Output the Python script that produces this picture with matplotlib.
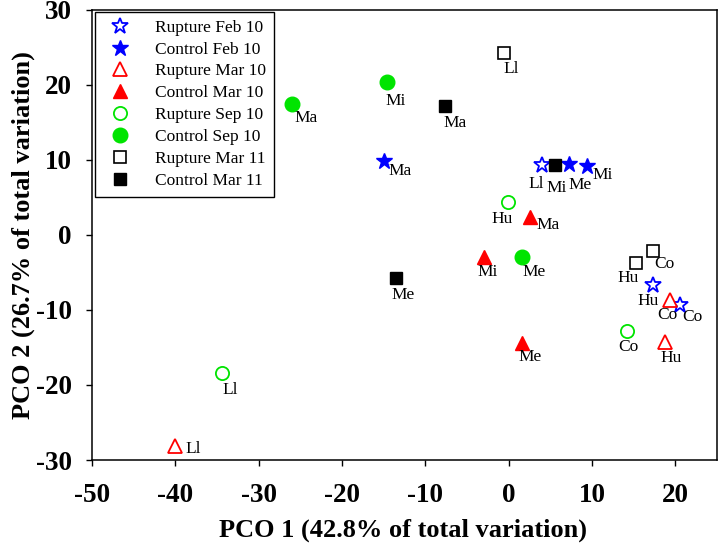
import matplotlib.pyplot as plt

plt.rcParams['font.family'] = ['Liberation Serif', 'DejaVu Serif']
plt.rcParams['axes.unicode_minus'] = False

# PCO scores
rup_feb10_x = [4.0, 17.3, 20.6]
rup_feb10_y = [9.3, -6.7, -9.3]
rup_feb10_lab = ["Ll", "Hu", "Co"]

con_feb10_x = [-15.0, 7.2, 9.4]
con_feb10_y = [9.8, 9.4, 9.2]
con_feb10_lab = ["Ma", "Me", "Mi"]

rup_mar10_x = [-40.0, 19.4, 18.8]
rup_mar10_y = [-28.2, -8.7, -14.3]
rup_mar10_lab = ["Ll", "Co", "Hu"]

con_mar10_x = [2.6, -3.0, 1.6]
con_mar10_y = [2.4, -3.0, -14.4]
con_mar10_lab = ["Ma", "Mi", "Me"]

rup_sep10_x = [-0.1, 14.2, -34.4]
rup_sep10_y = [4.4, -12.8, -18.4]
rup_sep10_lab = ["Hu", "Co", "Ll"]

con_sep10_x = [-26.0, -14.6, 1.6]
con_sep10_y = [17.4, 20.3, -3.0]
con_sep10_lab = ["Ma", "Mi", "Me"]

rup_mar11_x = [-0.6, 17.3, 15.3]
rup_mar11_y = [24.2, -2.1, -3.7]
rup_mar11_lab = ["Ll", "Co", "Hu"]

con_mar11_x = [-7.6, 5.6, -13.5]
con_mar11_y = [17.2, 9.3, -5.8]
con_mar11_lab = ["Ma", "Mi", "Me"]

# label offsets from the marker (pixels, right / down)
label_offsets = [
    [(-14, 11), (-15, 8), (2, 4)],
    [(5, 2), (0, 13), (5, 1)],
    [(10, -5), (-13, 7), (-5, 8)],
    [(6, 0), (-6, 7), (-4, 6)],
    [(-16, 9), (-9, 8), (0, 9)],
    [(2, 6), (-2, 11), (0, 7)],
    [(0, 8), (1, 5), (-19, 7)],
    [(-2, 9), (-9, 15), (-5, 9)],
]

green = '#00e400'
series = [
    ("Rupture Feb 10", rup_feb10_x, rup_feb10_y, rup_feb10_lab, dict(marker='*', ms=12, mfc='white', mec='blue', mew=1.3)),
    ("Control Feb 10", con_feb10_x, con_feb10_y, con_feb10_lab, dict(marker='*', ms=12, mfc='blue', mec='blue', mew=1)),
    ("Rupture Mar 10", rup_mar10_x, rup_mar10_y, rup_mar10_lab, dict(marker='^', ms=10, mfc='white', mec='red', mew=1.3)),
    ("Control Mar 10", con_mar10_x, con_mar10_y, con_mar10_lab, dict(marker='^', ms=10, mfc='red', mec='red', mew=1)),
    ("Rupture Sep 10", rup_sep10_x, rup_sep10_y, rup_sep10_lab, dict(marker='o', ms=9.5, mfc='white', mec=green, mew=1.3)),
    ("Control Sep 10", con_sep10_x, con_sep10_y, con_sep10_lab, dict(marker='o', ms=10.5, mfc=green, mec=green, mew=1)),
    ("Rupture Mar 11", rup_mar11_x, rup_mar11_y, rup_mar11_lab, dict(marker='s', ms=8.5, mfc='white', mec='black', mew=1.2)),
    ("Control Mar 11", con_mar11_x, con_mar11_y, con_mar11_lab, dict(marker='s', ms=9, mfc='black', mec='black', mew=1)),
]

fig = plt.figure(figsize=(7.18, 5.46), dpi=100)
ax = fig.add_axes([92 / 718, 1 - 460 / 546, 625 / 718, 450.5 / 546])

for (name, xs, ys, labs, style), offs in zip(series, label_offsets):
    ax.plot(xs, ys, linestyle='none', label=name, **style)
    for x, y, lab, (dx, dy) in zip(xs, ys, labs, offs):
        ax.annotate(lab, (x, y), xytext=(dx * 0.72, -dy * 0.72), textcoords='offset points',
                    ha='left', va='top', fontsize=12.5)

ax.set_xlim(-50, 25)
ax.set_ylim(-30, 30)
ax.set_xticks(range(-50, 21, 10))
ax.set_yticks(range(-30, 31, 10))
ax.tick_params(direction='out', length=4.5, width=1, top=False, right=False,
               labelsize=19.5)
ax.tick_params(axis='x', pad=12)
ax.tick_params(axis='y', pad=10)
for lbl in ax.get_xticklabels() + ax.get_yticklabels():
    lbl.set_fontweight('bold')
for sp in ax.spines.values():
    sp.set_linewidth(1.1)

ax.set_xlabel("PCO 1 (42.8% of total variation)", fontsize=19, fontweight='bold')
ax.set_ylabel("PCO 2 (26.7% of total variation)", fontsize=19, fontweight='bold')
ax.xaxis.set_label_coords(0.498, -0.155)
ax.xaxis.label.set_va('center')
ax.yaxis.set_label_coords(-0.11, 0.5)
ax.yaxis.label.set_va('center')

leg = ax.legend(loc='upper left', bbox_to_anchor=(0.005, 0.995), borderaxespad=0,
                fontsize=12.5, frameon=True, fancybox=False, edgecolor='black',
                handletextpad=1.0, labelspacing=0.33, borderpad=0.45, handlelength=2.0,
                numpoints=1)
leg.get_frame().set_linewidth(1)
leg.get_frame().set_alpha(1)

fig.savefig("out.png", dpi=100)
